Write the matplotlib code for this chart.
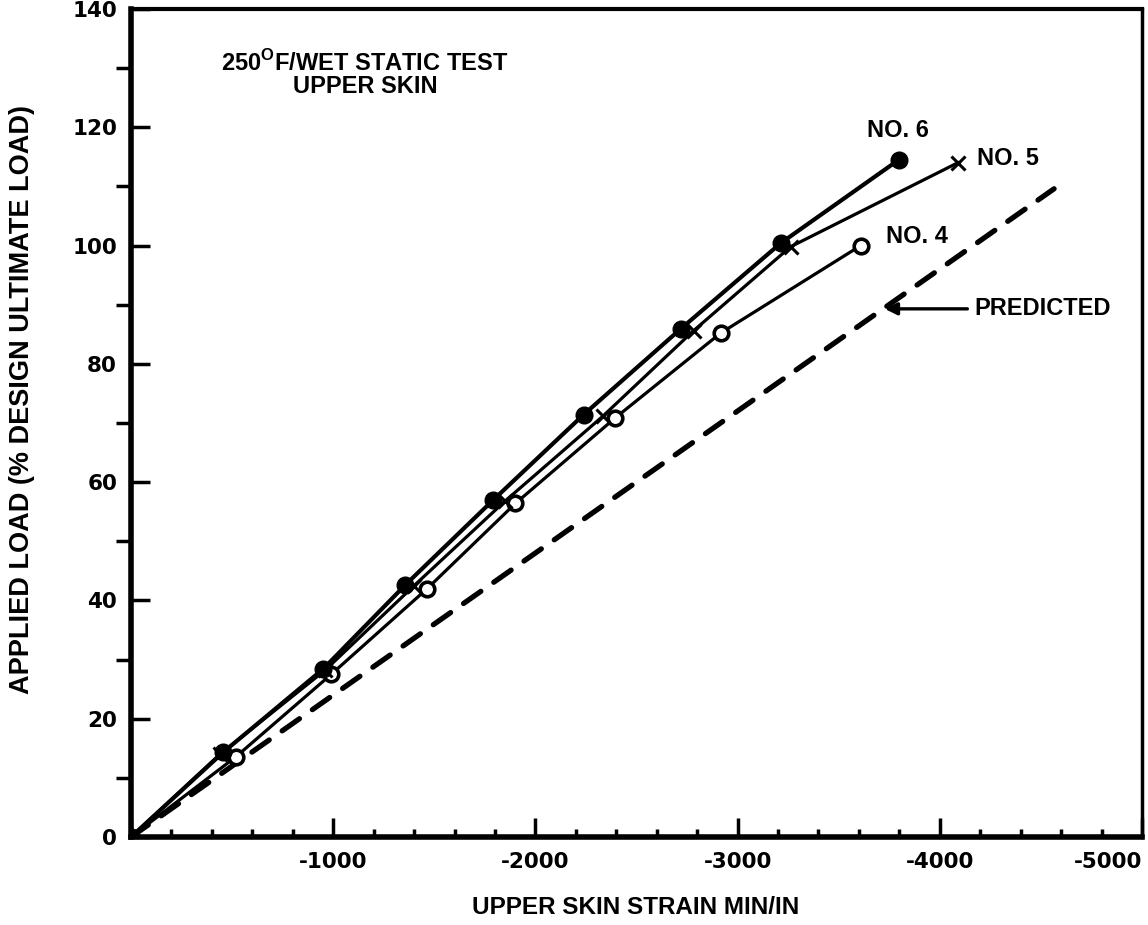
import matplotlib
matplotlib.use("Agg")
import matplotlib.pyplot as plt
from matplotlib.ticker import MultipleLocator, FixedLocator

plt.rcParams['font.family'] = ['DejaVu Sans']

# ---- data (strain in micro-in/in, load in % design ultimate load) ----
no6_strain = [0, -455, -950, -1356, -1792, -2238, -2718, -3213, -3797]
no6_load = [0, 14.3, 28.4, 42.6, 57.0, 71.4, 85.9, 100.4, 114.5]

no5_strain = [0, -440, -960, -1400, -1850, -2332, -2782, -3262, -4089]
no5_load = [0, 14.0, 28.2, 42.5, 56.8, 71.1, 85.6, 99.8, 114.0]

no4_strain = [0, -520, -990, -1465, -1901, -2396, -2916, -3609]
no4_load = [0, 13.6, 27.5, 42.0, 56.4, 70.9, 85.2, 100.0]

pred_strain = [0, -4565]
pred_load = [0, 109.6]

x_ticks = [0, -1000, -2000, -3000, -4000, -5000]
x_ticklabels = ["", "-1000", "-2000", "-3000", "-4000", "-5000"]
y_ticks = [0, 20, 40, 60, 80, 100, 120, 140]

fig = plt.figure(figsize=(11.48, 9.25), dpi=100)
ax = fig.add_axes([0.1141, 0.0951, 0.9948 - 0.1141, 0.9903 - 0.0951])

ax.plot(pred_strain, pred_load, color='black', lw=3.8, dashes=(4.0, 3.0),
        dash_capstyle='round')
ax.plot(no4_strain, no4_load, color='black', lw=2.3, marker='o', ms=10.5,
        mfc='white', mec='black', mew=2.6)
ax.plot(no5_strain, no5_load, color='black', lw=2.3, marker='x', ms=9.5,
        mew=2.2)
ax.plot(no6_strain, no6_load, color='black', lw=3.0, marker='o', ms=12,
        mfc='black', mec='black')

ax.set_xlim(0, -5000)
ax.set_ylim(0, 140)

# spines
for side, lw in [('left', 4), ('bottom', 4), ('top', 3), ('right', 2.5)]:
    ax.spines[side].set_linewidth(lw)

ax.xaxis.set_major_locator(FixedLocator(x_ticks))
ax.set_xticklabels(x_ticklabels)
ax.xaxis.set_minor_locator(MultipleLocator(200))
ax.yaxis.set_major_locator(FixedLocator(y_ticks))
ax.yaxis.set_minor_locator(MultipleLocator(10))

ax.tick_params(axis='x', which='major', direction='in', length=14, width=2.5,
               pad=11, labelsize=15.5)
ax.tick_params(axis='x', which='minor', direction='in', length=6, width=2.5)
ax.tick_params(axis='y', which='major', direction='in', length=14, width=2.5,
               pad=10, labelsize=15.5)
ax.tick_params(axis='y', which='minor', direction='out', length=11, width=2.5)
for lab in ax.get_xticklabels() + ax.get_yticklabels():
    lab.set_fontweight('bold')
ax.get_xticklabels()[-1].set_horizontalalignment('right')

ax.set_xlabel("UPPER SKIN STRAIN MIN/IN", fontsize=17.5, fontweight='bold',
              family='Liberation Sans')
ax.xaxis.set_label_coords(0.4995, -0.0845)
ax.xaxis.label.set_va('center')
ax.set_ylabel("APPLIED LOAD (% DESIGN ULTIMATE LOAD)", fontsize=19.5,
              fontweight='bold', family='Liberation Sans')
ax.yaxis.set_label_coords(-0.108, 0.528)
ax.yaxis.label.set_va('center')

# title block inside plot
ax.text(0.2315, 0.9215,
        "250$^{\\mathregular{O}}$F/WET STATIC TEST\nUPPER SKIN",
        transform=ax.transAxes, ha='center', va='center', ma='center',
        fontsize=17, linespacing=1.0, fontweight='bold',
        family='Liberation Sans')

# series labels
lab_kw = dict(ha='center', va='center', fontsize=17, fontweight='bold',
              family='Liberation Sans')
ax.text(-3793, 119.5, "NO. 6", **lab_kw)
ax.text(-4337, 114.8, "NO. 5", **lab_kw)
ax.text(-3887, 101.5, "NO. 4", **lab_kw)
ax.text(-4510, 89.3, "PREDICTED", **lab_kw)
ax.annotate("", xy=(-3714, 89.3), xytext=(-4150, 89.3),
            arrowprops=dict(arrowstyle='-|>', color='black', lw=2.4,
                            mutation_scale=18))

fig.savefig("out.png", dpi=100)
